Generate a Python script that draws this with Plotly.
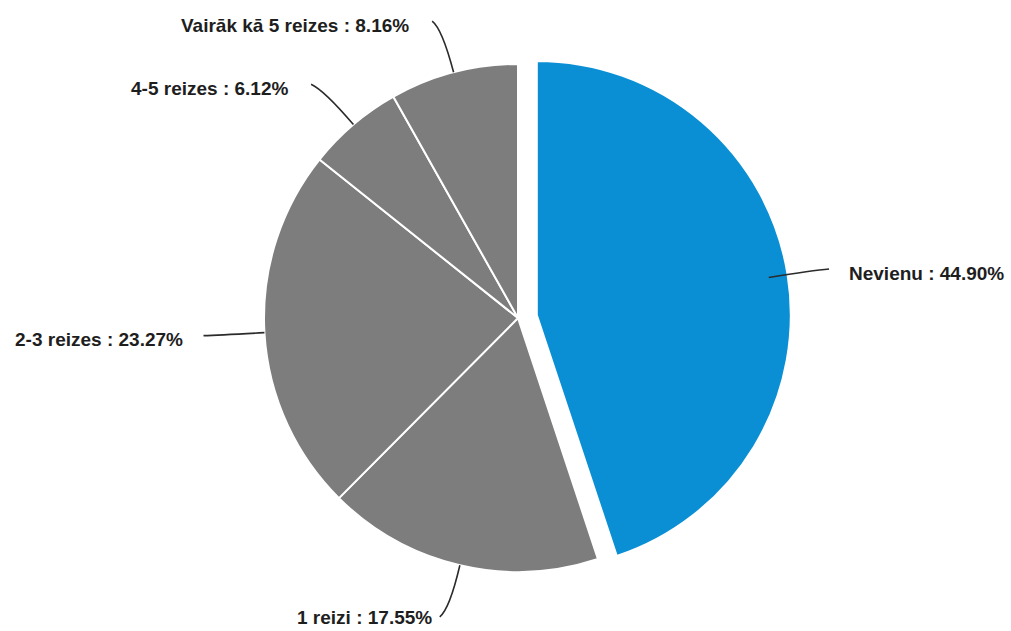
import math
import plotly.graph_objects as go

# Survey answers and their shares (%)
labels = ["Nevienu", "1 reizi", "2-3 reizes", "4-5 reizes", "Vairāk kā 5 reizes"]
shares = [44.90, 17.55, 23.27, 6.12, 8.16]
colors = ["#0a8fd5", "#7d7d7d", "#7d7d7d", "#7d7d7d", "#7d7d7d"]
pulls = [0.075, 0, 0, 0, 0]

W, H = 1011, 631
CX, CY, R = 518, 318, 254          # pie centre and radius in pixels
label_gap = [19, 7, 20, 22, 22]    # space between connector end and label text

max_pull = max(pulls)
half = R * (1 + max_pull)
dom_x = [(CX - 300) / W, (CX + 300) / W]
dom_y = [1 - (CY + half) / H, 1 - (CY - half) / H]

fig = go.Figure(go.Pie(
    labels=labels,
    values=shares,
    sort=False,
    direction="clockwise",
    rotation=0,
    pull=pulls,
    marker=dict(colors=colors, line=dict(color="white", width=2)),
    textinfo="none",
    hoverinfo="label+percent",
    showlegend=False,
    domain=dict(x=dom_x, y=dom_y),
))


def px(x, y):
    return x / W, 1 - y / H


shapes, annotations = [], []
total = sum(shares)
cum = 0.0
for i, (lab, v) in enumerate(zip(labels, shares)):
    mid = (cum + v / 2) / total
    cum += v
    th = 2 * math.pi * mid
    ux, uy = math.sin(th), -math.cos(th)
    side = 1 if ux >= 0 else -1
    sx, sy = CX + ux * R, CY + uy * R
    qx, qy = CX + ux * (R + 45), CY + uy * (R + 45)
    ex, ey = CX + ux * (R + 53) + side * 8, CY + uy * (R + 53)
    a, b, c = px(sx, sy), px(qx, qy), px(ex, ey)
    shapes.append(dict(
        type="path", xref="paper", yref="paper",
        path=f"M {a[0]},{a[1]} Q {b[0]},{b[1]} {c[0]},{c[1]}",
        line=dict(color="#2b2b2b", width=1.6),
    ))
    # keep the label box inside the figure
    label_y = min(ey + 4, H - 14)
    tx, ty = px(ex + side * label_gap[i], label_y)
    annotations.append(dict(
        x=tx, y=ty, xref="paper", yref="paper",
        text=f"<b>{lab} : {v:.2f}%</b>",
        showarrow=False,
        xanchor="left" if side > 0 else "right",
        yanchor="middle",
        borderpad=0,
        font=dict(family="Arial, Liberation Sans, sans-serif", size=19, color="#1e1e1e"),
    ))

fig.update_layout(
    width=W, height=H,
    margin=dict(l=0, r=0, t=0, b=0),
    paper_bgcolor="white",
    plot_bgcolor="white",
    shapes=shapes,
    annotations=annotations,
)

fig.write_html("out.html")
